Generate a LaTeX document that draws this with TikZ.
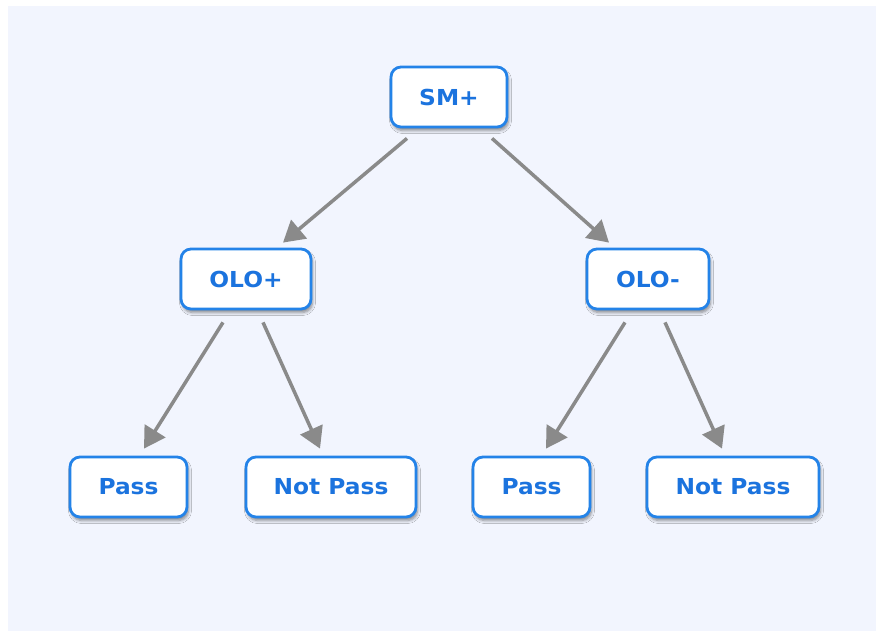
\documentclass[tikz,border=0pt]{standalone}
\usepackage{fontspec}
\setmainfont{DejaVu Sans}[FakeStretch=1.06]
\usetikzlibrary{arrows.meta,shadows.blur,calc}
\definecolor{bgc}{HTML}{F2F5FE}
\definecolor{bordc}{HTML}{2483E8}
\definecolor{txtc}{HTML}{1B73DE}
\definecolor{arrc}{HTML}{8A8A8A}
\begin{document}
\begin{tikzpicture}[x=1pt,y=1pt,
  box/.style={draw=bordc, line width=2.8pt, fill=white, rounded corners=10pt,
    minimum height=60pt, inner sep=0pt, text=txtc, font=\fontsize{22}{25}\selectfont\bfseries,
    blur shadow={shadow xshift=1.5pt, shadow yshift=-3.5pt, shadow blur steps=6, shadow opacity=45, shadow blur radius=3pt}},
  conn/.style={draw=arrc, line width=3.5pt, -{Triangle[length=21pt,width=24pt]}}]
\useasboundingbox (0,0) rectangle (876,-631);
\fill[bgc] (8,-6) rectangle (876,-631);
\node[box, minimum width=116pt] (sm) at (449,-97) {SM+};
\node[box, minimum width=130pt] (olop) at (246,-279) {OLO+};
\node[box, minimum width=122pt] (olom) at (648,-279) {OLO-};
\node[box, minimum width=117pt] (p1) at (128.5,-487) {Pass};
\node[box, minimum width=170pt] (n1) at (331,-487) {Not Pass};
\node[box, minimum width=117pt] (p2) at (531.5,-487) {Pass};
\node[box, minimum width=172pt] (n2) at (733,-487) {Not Pass};
\draw[conn] ($(sm.south)+(-42,-10)$) -- ($(olop.north)+(37,5)$);
\draw[conn] ($(sm.south)+(43,-10)$) -- ($(olom.north)+(-39,5)$);
\draw[conn] ($(olop.south)+(-23,-12)$) -- ($(p1.north)+(15.5,7)$);
\draw[conn] ($(olop.south)+(17,-12)$) -- ($(n1.north)+(-11,7)$);
\draw[conn] ($(olom.south)+(-23,-12)$) -- ($(p2.north)+(14.5,7)$);
\draw[conn] ($(olom.south)+(17,-12)$) -- ($(n2.north)+(-11,7)$);
\end{tikzpicture}
\end{document}
